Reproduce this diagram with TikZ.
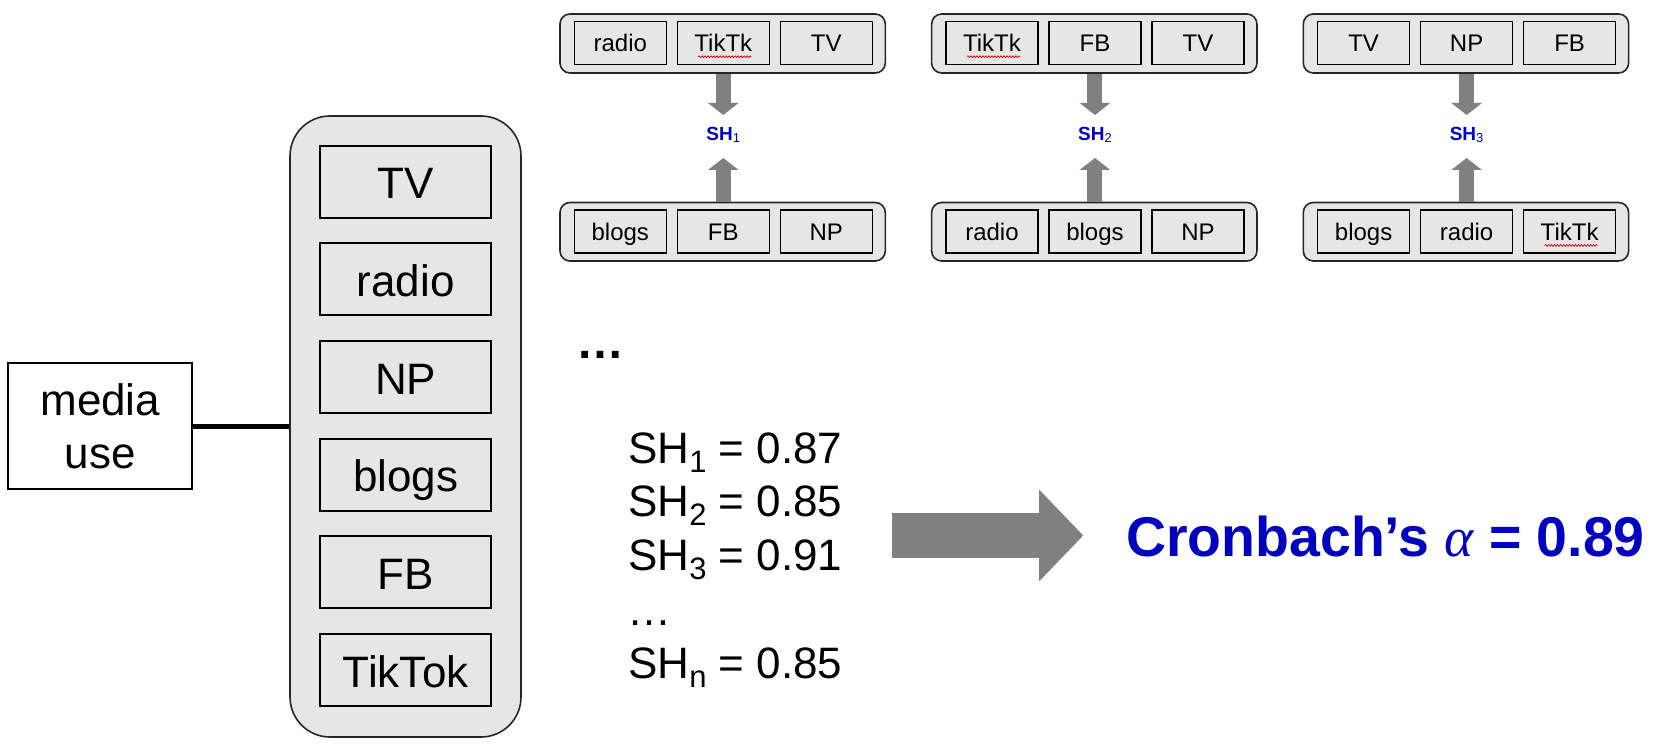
\documentclass[tikz,border=0pt]{standalone}
\usepackage{fontspec}
\setmainfont{Liberation Sans}
\newfontfamily\alphafont{Liberation Serif}
\usetikzlibrary{arrows.meta,decorations.pathmorphing}
\definecolor{boxgray}{RGB}{230,230,230}
\definecolor{arrowgray}{RGB}{128,128,128}
\definecolor{labelblue}{RGB}{0,0,192}
\newcommand\fsz[1]{\fontsize{#1}{#1}\selectfont}
\newcommand\lowsub[3]{\raisebox{-#2pt}{\fontsize{#1}{#1}\selectfont #3}}
\begin{document}
\begin{tikzpicture}[x=1pt,y=-1pt,
  bigbox/.style={draw=black!85, fill=boxgray, line width=1.6pt, rounded corners=40pt, minimum width=231pt, minimum height=621pt, inner sep=0pt},
  item/.style={draw=black, fill=boxgray, line width=2pt, minimum width=170.7pt, minimum height=72pt, inner sep=0pt, text height=38pt, text depth=4pt, font=\fsz{44}},
  mediabox/.style={draw=black, fill=white, line width=2pt, minimum width=184pt, minimum height=126.6pt, align=center, inner sep=0pt, font=\fontsize{44}{53.3}\selectfont},
  outerbox/.style={draw=black!85, fill=boxgray, line width=1.6pt, rounded corners=10pt, minimum width=325.3pt, minimum height=59pt, inner sep=0pt},
  cell/.style={draw=black, fill=boxgray, line width=1.6pt, minimum width=92pt, minimum height=43pt, inner sep=0pt, text height=20pt, text depth=2pt, font=\fsz{24}},
  shlabel/.style={text=labelblue, font=\bfseries\fsz{19}, inner sep=0pt},
  smallarrow/.style={draw=arrowgray, line width=15pt, -{Triangle[width=30pt 0 0,length=12pt 0 0]}},
  bigarrow/.style={draw=arrowgray, line width=44.4pt, -{Triangle[width=89.3pt 0 0,length=44.3pt 0 0]}},
  shtext/.style={anchor=base west, inner sep=0pt, font=\fsz{44}},
  squiggle/.style={draw=red!85!black, line width=0.7pt, decorate, decoration={snake, amplitude=0.9pt, segment length=3pt}},
  connector/.style={draw=black, line width=5pt}
]
\useasboundingbox (0,0) rectangle (1661,751);

% left part
\node[bigbox] (big) at (405.5,426.5) {};
\node[item] (i1) at (405.7,181.7) {TV};
\node[item] (i2) at (405.7,279.4) {radio};
\node[item] (i3) at (405.7,377.0) {NP};
\node[item] (i4) at (405.7,474.8) {blogs};
\node[item] (i5) at (405.7,572.4) {FB};
\node[item] (i6) at (405.7,670.2) {TikTok};
\node[mediabox] (media) at (100.3,426) {media\\use};
\draw[connector] (media.east) -- (media.east -| big.west);

% top blocks
\foreach \k/\a/\b/\c/\d/\e/\f in {0/radio/TikTk/TV/blogs/FB/NP, 1/TikTk/FB/TV/radio/blogs/NP, 2/TV/NP/FB/blogs/radio/TikTk} {
  \pgfmathsetmacro\L{560+371.65*\k}
  \node[outerbox] (to\k) at (\L+162.65,43.5) {};
  \node[cell] (t\k1) at (\L+60.3,43) {\a};
  \node[cell] (t\k2) at (\L+163.3,43) {\b};
  \node[cell] (t\k3) at (\L+266.3,43) {\c};
  \node[outerbox, minimum height=58.5pt] (bo\k) at (\L+162.65,231.75) {};
  \node[cell] (b\k1) at (\L+60.3,231.7) {\d};
  \node[cell] (b\k2) at (\L+163.3,231.7) {\e};
  \node[cell] (b\k3) at (\L+266.3,231.7) {\f};
  \pgfmathtruncatemacro\n{\k+1}
  \node[shlabel] (sh\k) at (\L+163.3,135) {SH\lowsub{13}{2.5}{\mdseries\n}};
  \coordinate (dtip\k) at (\L+163.3,115);
  \coordinate (utip\k) at (\L+163.3,158);
  \draw[smallarrow] (t\k2.south |- to\k.south) -- (dtip\k);
  \draw[smallarrow] (b\k2.north |- bo\k.north) -- (utip\k);
}
% spell-check marks
\draw[squiggle] ([xshift=-25pt,yshift=-13.7pt]t02.center) -- ([xshift=28pt,yshift=-13.7pt]t02.center);
\draw[squiggle] ([xshift=-25pt,yshift=-13.7pt]t11.center) -- ([xshift=28pt,yshift=-13.7pt]t11.center);
\draw[squiggle] ([xshift=-25pt,yshift=-13.7pt]b23.center) -- ([xshift=28pt,yshift=-13.7pt]b23.center);

% ellipsis
\node[anchor=base west, inner sep=0pt, font=\bfseries\fsz{48}] (dots) at (576.5,358) {…};

% SH list
\node[shtext] (l1) at (628,463.3) {SH\lowsub{31}{9}{1} = 0.87};
\node[shtext] (l2) at (628,516.7) {SH\lowsub{31}{9}{2} = 0.85};
\node[shtext] (l3) at (628,570.0) {SH\lowsub{31}{9}{3} = 0.91};
\node[shtext] (l4) at (627.5,625.0) {…};
\node[shtext] (l5) at (628,678.0) {SH\lowsub{31}{9}{n} = 0.85};

% big arrow
\coordinate (hstart) at (891.7,535.5);
\coordinate (htip) at (1083.3,535.5);
\draw[bigarrow] (hstart) -- (htip);

% result
\node[anchor=base west, inner sep=0pt, text=labelblue, font=\bfseries\fsz{56}] (cron) at (1126,556) {\scalebox{0.99}[1]{Cronbach’s {\alphafont\mdseries\itshape α} = 0.89}};
\end{tikzpicture}
\end{document}
